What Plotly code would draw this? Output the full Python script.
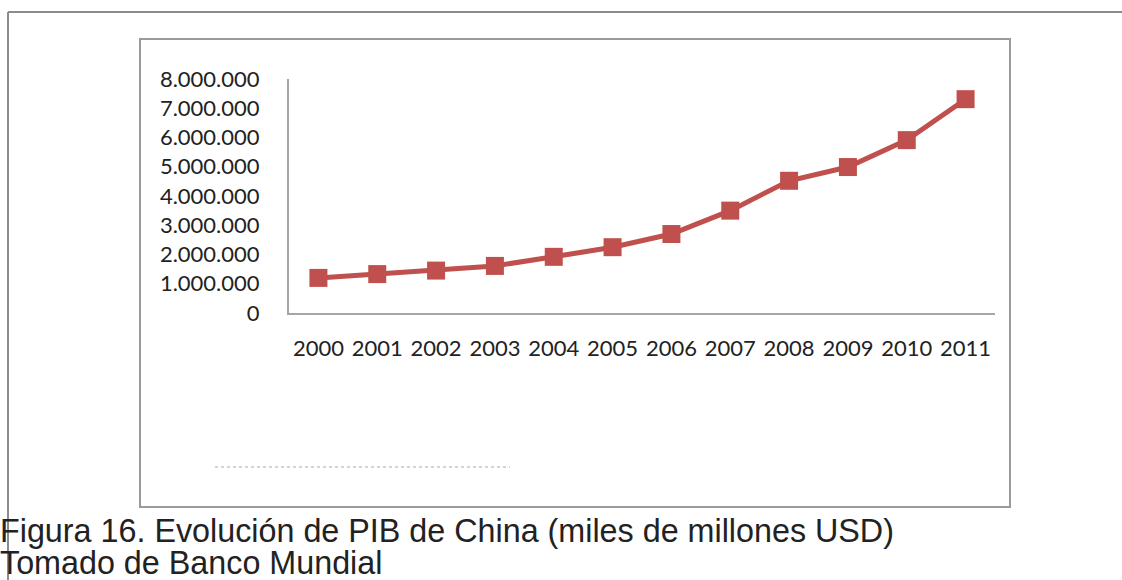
import plotly.graph_objects as go

# PIB de China, miles de millones USD (Banco Mundial)
years = ["2000", "2001", "2002", "2003", "2004", "2005",
         "2006", "2007", "2008", "2009", "2010", "2011"]
gdp = [1200000, 1330000, 1450000, 1610000, 1920000, 2250000,
       2700000, 3500000, 4520000, 4990000, 5910000, 7310000]
y_ticks = [0, 1000000, 2000000, 3000000, 4000000,
           5000000, 6000000, 7000000, 8000000]
caption = ["Figura 16. Evolución de PIB de China (miles de millones USD)",
           "Tomado de Banco Mundial"]

W, H = 1122, 580
L, R, T, B = 289, 995, 79, 313  # plot area in pixels


def px(x):
    return (x - L) / (R - L)


def py(y):
    return (B - y) / (B - T)


red = "#C0504D"
axis_grey = "#A6A6A6"
frame_grey = "#8C8C8C"

fig = go.Figure()
fig.add_trace(go.Scatter(
    x=years, y=gdp, mode="lines+markers",
    line=dict(color=red, width=5),
    marker=dict(symbol="square", size=18, color=red),
    showlegend=False, hoverinfo="skip",
))

shapes = [
    # outer frame (left + top)
    dict(type="line", xref="paper", yref="paper", x0=px(8), x1=px(8), y0=py(12), y1=py(582),
         line=dict(color=frame_grey, width=2)),
    dict(type="line", xref="paper", yref="paper", x0=px(8), x1=px(1124), y0=py(12), y1=py(12),
         line=dict(color=frame_grey, width=2)),
    # chart box
    dict(type="rect", xref="paper", yref="paper", x0=px(140), x1=px(1010), y0=py(39), y1=py(507),
         line=dict(color="#9A9A9A", width=2), fillcolor="rgba(0,0,0,0)"),
    # faint clipped text remnant
    dict(type="line", xref="paper", yref="paper", x0=px(215), x1=px(510), y0=py(467), y1=py(467),
         line=dict(color="#D4D4D4", width=2, dash="dot")),
]

annotations = [
    dict(text=caption[0], xref="paper", yref="paper", x=px(-2), y=py(531),
         xanchor="left", yanchor="middle", showarrow=False,
         font=dict(family="Liberation Sans, Arial", size=32.3, color="#222222")),
    dict(text=caption[1], xref="paper", yref="paper", x=px(-2), y=py(563),
         xanchor="left", yanchor="middle", showarrow=False,
         font=dict(family="Liberation Sans, Arial", size=32.3, color="#222222")),
]

fig.update_layout(
    width=W, height=H,
    margin=dict(l=L, r=W - R, t=T, b=H - B, pad=0),
    paper_bgcolor="white", plot_bgcolor="white",
    separators=",.",
    font=dict(family="Lato, Open Sans", size=22, color="#222222"),
    shapes=shapes, annotations=annotations,
    xaxis=dict(type="category", range=[-0.5, 11.5], showgrid=False, zeroline=False,
               showline=True, linecolor=axis_grey, linewidth=2,
               ticks="outside", ticklen=15, tickcolor="white"),
    yaxis=dict(range=[0, 8000000], tickvals=y_ticks, tickformat=",d",
               showgrid=False, zeroline=False,
               showline=True, linecolor=axis_grey, linewidth=2,
               ticks="outside", ticklen=23, tickcolor="white"),
)

# the page body has a default 8px margin; drop it so the figure sits at 0,0
fig.write_html("out.html", config={"displayModeBar": False},
               post_script="document.body.style.margin='0px';")
